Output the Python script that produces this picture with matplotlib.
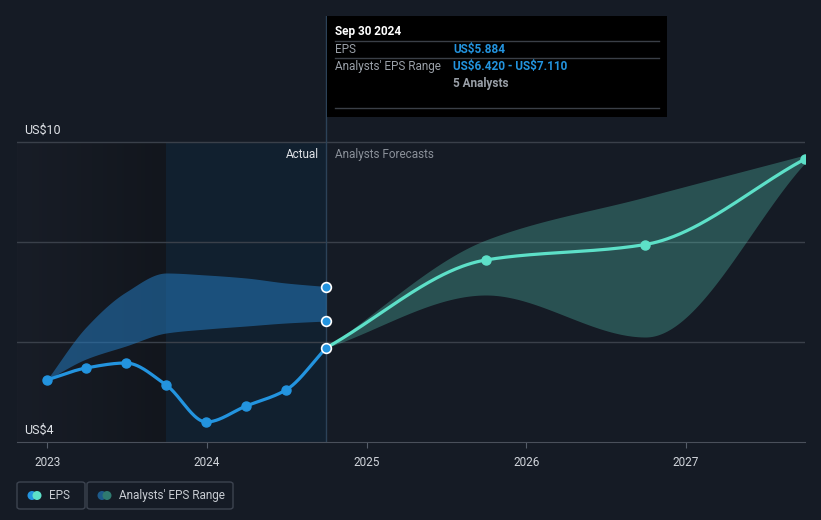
import numpy as np
import matplotlib
matplotlib.use("Agg")
import matplotlib.pyplot as plt
import matplotlib.dates as mdates
from matplotlib.patches import Rectangle, FancyBboxPatch, Ellipse
from matplotlib.lines import Line2D

plt.rcParams['font.family'] = ['Roboto', 'DejaVu Sans']

# actual EPS (quarterly, trailing)
eps_dates = ['2022-12-31', '2023-03-31', '2023-06-30', '2023-09-30',
             '2023-12-31', '2024-03-31', '2024-06-30', '2024-09-30']
eps_values = [5.24, 5.48, 5.58, 5.14, 4.40, 4.72, 5.04, 5.884]
range_low = [5.24, 5.66, 5.92, 6.18, 6.26, 6.32, 6.38, 6.42]
range_high = [5.24, 6.30, 7.00, 7.38, 7.34, 7.28, 7.18, 7.11]

# analyst forecasts
fc_dates = ['2024-09-30', '2025-09-30', '2026-09-30', '2027-09-30']
fc_values = [5.884, 7.64, 7.95, 9.66]
fc_low = [5.884, 6.94, 6.10, 9.58]
fc_high = [5.884, 8.04, 8.90, 9.74]

years = ['2023', '2024', '2025', '2026', '2027']

BG = '#151b25'
BLUE = '#2394df'
MINT = '#5de0c8'
W, H = 821, 520


def pchip(x, y, xs):
    # monotone cubic, used only for drawing smooth curves through the points
    x = np.asarray(x, float)
    y = np.asarray(y, float)
    h = np.diff(x)
    d = np.diff(y) / h
    n = len(x)
    m = np.zeros(n)
    for k in range(1, n - 1):
        if d[k - 1] * d[k] > 0:
            w1 = 2 * h[k] + h[k - 1]
            w2 = h[k] + 2 * h[k - 1]
            m[k] = (w1 + w2) / (w1 / d[k - 1] + w2 / d[k])
    m[0] = d[0]
    m[-1] = d[-1]
    i = np.clip(np.searchsorted(x, xs) - 1, 0, n - 2)
    t = (xs - x[i]) / h[i]
    h00 = 2 * t**3 - 3 * t**2 + 1
    h10 = t**3 - 2 * t**2 + t
    h01 = -2 * t**3 + 3 * t**2
    h11 = t**3 - t**2
    return h00 * y[i] + h10 * h[i] * m[i] + h01 * y[i + 1] + h11 * h[i] * m[i + 1]


def px(x, y):
    return x / W, 1 - y / H


ex = mdates.datestr2num(eps_dates)
fx = mdates.datestr2num(fc_dates)
xs_e = np.linspace(ex[0], ex[-1], 300)
xs_f = np.linspace(fx[0], fx[-1], 300)

fig = plt.figure(figsize=(W / 100, H / 100), dpi=100, facecolor=BG)
ax = fig.add_axes([17 / W, 78 / H, 788 / W, 426 / H])
ax.set_facecolor(BG)

x_left = mdates.datestr2num('2022-10-24')
x_right = mdates.datestr2num('2027-09-30')
ax.set_xlim(x_left, x_right)
ax.set_ylim(4, 10 + 126 / 50)

# shaded past periods
grad = np.linspace(0, 1, 100).reshape(1, -1)
c0 = np.array([0x18, 0x1d, 0x27]) / 255
c1 = np.array([0x12, 0x16, 0x1d]) / 255
img = c0 + (c1 - c0) * grad[..., None]
ax.imshow(img, extent=[x_left, ex[3], 4, 10], aspect='auto', zorder=0)
ax.fill_between([ex[3], ex[-1]], 4, 10, color='#11202f', lw=0, zorder=0.5)

# grid
for v in [6, 8, 10]:
    ax.axhline(v, color='#3a404a', lw=1, zorder=1)

# analysts range bands
ax.fill_between(xs_e, pchip(ex, range_low, xs_e), pchip(ex, range_high, xs_e),
                color='#2479bd', alpha=0.55, lw=0, zorder=2)
ax.fill_between(xs_f, pchip(fx, fc_low, xs_f), pchip(fx, fc_high, xs_f),
                color=MINT, alpha=0.28, lw=0, zorder=2)

ax.axvline(ex[-1], color='#2c4258', lw=1, zorder=1.5)

# lines
ax.plot(xs_e, pchip(ex, eps_values, xs_e), color=BLUE, lw=2.3, zorder=3)
ax.plot(xs_f, pchip(fx, fc_values, xs_f), color=MINT, lw=2.3, zorder=3)
ax.plot(ex[:-1], eps_values[:-1], 'o', color=BLUE, ms=6.5, zorder=4)
ax.plot(fx[1:], fc_values[1:], 'o', color=MINT, ms=6.5, zorder=4)
ax.plot([ex[-1]] * 3, [eps_values[-1], range_low[-1], range_high[-1]], 'o',
        color=BLUE, mec='white', mew=1.2, ms=7, zorder=5, clip_on=False)

# axes styling
for s in ['top', 'right', 'left']:
    ax.spines[s].set_visible(False)
ax.spines['bottom'].set_color('#4a505b')
ax.set_yticks([])
ax.set_xticks(mdates.datestr2num([y + '-01-01' for y in years]))
ax.set_xticklabels(years)
ax.tick_params(axis='x', colors='#555d69', length=4, pad=6, labelsize=8.5,
               labelcolor='#d0d4da')

# labels
fig.text(*px(24, 130), 'US\\$10', color='#e0e3e8', fontsize=9, va='center')
fig.text(*px(24, 430), 'US\\$4', color='#e0e3e8', fontsize=9, va='center')
fig.text(*px(319, 154), 'Actual', color='#e0e3e8', fontsize=8.5, va='center', ha='right')
fig.text(*px(335, 154), 'Analysts Forecasts', color='#8a9099', fontsize=8.5, va='center')

# tooltip
fig.patches.append(Rectangle(px(327, 117), 340 / W, 101 / H, transform=fig.transFigure,
                             facecolor='black', edgecolor='none', zorder=10))
for yy in [41.5, 58, 108]:
    fig.lines.append(Line2D([335 / W, 659 / W], [1 - yy / H] * 2, transform=fig.transFigure,
                            color='#3a3f47', lw=1, zorder=11))
tip = dict(fontsize=8.5, va='baseline', zorder=12)
fig.text(*px(335, 35.5), 'Sep 30 2024', color='white', fontweight='bold', **tip)
fig.text(*px(335, 53), 'EPS', color='#9aa0a8', **tip)
fig.text(*px(453, 53), 'US\\$5.884', color=BLUE, fontweight='bold', **tip)
fig.text(*px(335, 70), "Analysts' EPS Range", color='#9aa0a8', **tip)
fig.text(*px(453, 70), 'US\\$6.420 - US\\$7.110', color=BLUE, fontweight='bold', **tip)
fig.text(*px(453, 86.5), '5 Analysts', color='#9aa0a8', fontweight='bold', **tip)

# legend
legend_items = [('EPS', 17, 85, BLUE, MINT), ("Analysts' EPS Range", 87, 233, '#1d5a8a', '#2f7a70')]
for label, x0, x1, ca, cb in legend_items:
    fig.patches.append(FancyBboxPatch(px(x0, 509), (x1 - x0) / W, 27 / H,
                                      boxstyle='round,pad=0,rounding_size=0.004',
                                      transform=fig.transFigure, facecolor='none',
                                      edgecolor='#3d4450', lw=1))
    fig.patches.append(Ellipse(px(x0 + 15, 495.5), 9 / W, 9 / H, transform=fig.transFigure,
                               facecolor=ca, edgecolor='none'))
    fig.patches.append(Ellipse(px(x0 + 20, 495.5), 9 / W, 9 / H, transform=fig.transFigure,
                               facecolor=cb, edgecolor='none'))
    fig.text(*px(x0 + 32, 495.5), label, color='#c8ccd2', fontsize=8.5, va='center')

fig.savefig('out.png', dpi=100, facecolor=BG)
